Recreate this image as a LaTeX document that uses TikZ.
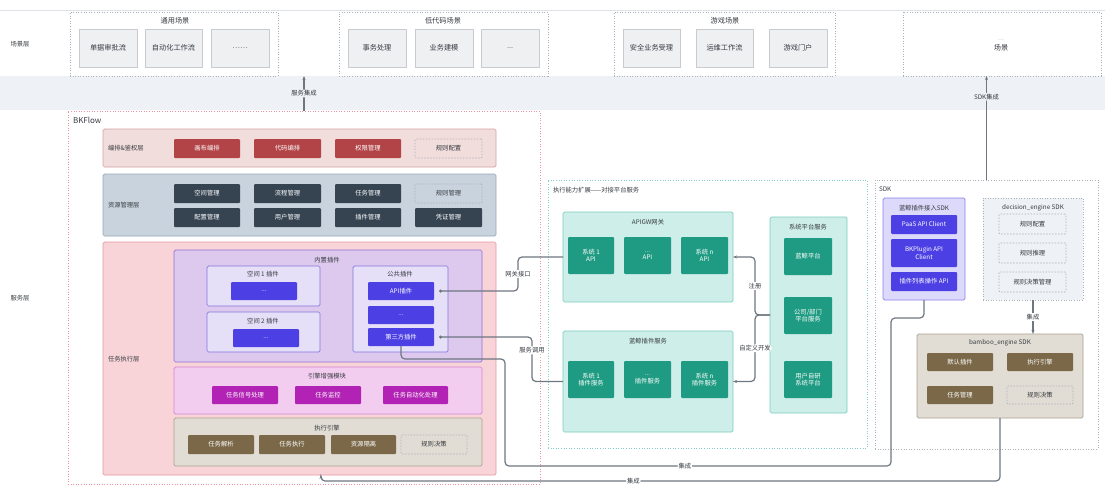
\documentclass[tikz,border=0pt]{standalone}
\usepackage{fontspec}
\setmainfont{Noto Sans CJK SC}
\usepackage{tikz}
\usetikzlibrary{arrows.meta,positioning,calc}
\usepackage{xcolor}
\definecolor{bandgray}{RGB}{238,241,245}
\definecolor{bandline}{RGB}{222,226,231}
\definecolor{scenefill}{RGB}{238,240,242}
\definecolor{sceneline}{RGB}{200,204,209}
\definecolor{dotgray}{RGB}{172,178,185}
\definecolor{txtdark}{RGB}{55,59,65}
\definecolor{linkgray}{RGB}{110,118,128}
\definecolor{bkpink}{RGB}{232,150,162}
\definecolor{orchfill}{RGB}{242,221,221}
\definecolor{orchline}{RGB}{212,160,160}
\definecolor{orchitem}{RGB}{178,68,72}
\definecolor{resfill}{RGB}{201,211,221}
\definecolor{resline}{RGB}{152,166,180}
\definecolor{resitem}{RGB}{54,68,82}
\definecolor{execfill}{RGB}{248,212,217}
\definecolor{execline}{RGB}{230,152,162}
\definecolor{plugfill}{RGB}{221,201,238}
\definecolor{plugline}{RGB}{150,112,210}
\definecolor{subfill}{RGB}{229,223,248}
\definecolor{subline}{RGB}{132,116,222}
\definecolor{blueitem}{RGB}{76,64,228}
\definecolor{enhfill}{RGB}{243,205,240}
\definecolor{enhline}{RGB}{210,132,210}
\definecolor{enhitem}{RGB}{178,34,180}
\definecolor{engfill}{RGB}{226,221,212}
\definecolor{engline}{RGB}{170,160,140}
\definecolor{engitem}{RGB}{122,104,72}
\definecolor{tealfill}{RGB}{206,238,233}
\definecolor{tealline}{RGB}{122,205,190}
\definecolor{tealitem}{RGB}{30,155,130}
\definecolor{tealdot}{RGB}{130,205,200}
\definecolor{sdkfill}{RGB}{221,217,251}
\definecolor{sdkline}{RGB}{138,128,232}
\newcommand{\sm}{\fontsize{6.3}{7.4}\selectfont}
\newcommand{\md}{\fontsize{7.2}{8.4}\selectfont}
% box from corner (x1,y1) to (x2,y2): style, name, x1, y1, x2, y2, text
\newcommand{\cell}[7]{\node[#1, minimum width={#5-#3}, minimum height={#6-#4}] (#2) at ({(#3+#5)/2},{(#4+#6)/2}) {#7};}
\tikzstyle{base} = [inner sep=0, outer sep=0, font=\sm, text=txtdark, align=center]
\tikzstyle{grp} = [base, draw=dotgray, line width=0.8pt, dash pattern=on 1pt off 1.6pt]
\tikzstyle{scn} = [base, font=\md, fill=scenefill, draw=sceneline, line width=0.5pt]
\tikzstyle{layer} = [base, rounded corners=1.5pt, line width=0.7pt]
\tikzstyle{item} = [base, rounded corners=1pt, text=white]
\tikzstyle{dashitem} = [base, rounded corners=1pt, draw=dotgray, line width=0.7pt, dash pattern=on 1.5pt off 1.5pt]
\tikzstyle{ttl} = [base]
\tikzstyle{lbl} = [base, fill=white, inner sep=1pt]
\tikzstyle{link} = [draw=linkgray, line width=1.2pt, rounded corners=4pt]

\begin{document}
\begin{tikzpicture}[x=1pt, y=-1pt]
    \useasboundingbox (0,0) rectangle (1105,485);

    % Bands
    \cell{base, fill=white, draw=bandline, line width=0.6pt}{sceneband}{-2}{10}{1107}{76}{}
    \cell{base, fill=bandgray}{midband}{-2}{76}{1107}{110}{}
    \node[ttl] (lscene) at (20,44) {场景层};
    \node[ttl] (lservice) at (20,298) {服务层};

    % Scene layer
    \cell{grp}{scn1}{70}{12}{278}{76}{}
    \node[ttl, font=\md] (scn1t) at (175,21) {通用场景};
    \cell{scn}{s11}{79}{29}{137}{67}{单据审批流}
    \cell{scn}{s12}{145}{29}{202}{67}{自动化工作流}
    \cell{scn}{s13}{211}{29}{269}{67}{……}

    \cell{grp}{scn2}{339}{12}{548}{76}{}
    \node[ttl, font=\md] (scn2t) at (443,21) {低代码场景};
    \cell{scn}{s21}{348}{29}{406}{67}{事务处理}
    \cell{scn}{s22}{415}{29}{473}{67}{业务建模}
    \cell{scn}{s23}{481}{29}{539}{67}{...}

    \cell{grp}{scn3}{614}{12}{835}{76}{}
    \node[ttl, font=\md] (scn3t) at (725,21) {游戏场景};
    \cell{scn}{s31}{623}{29}{680}{67}{安全业务受理}
    \cell{scn}{s32}{696}{29}{753}{67}{运维工作流}
    \cell{scn}{s33}{769}{29}{827}{67}{游戏门户}

    \cell{grp, fill=white}{scn4}{903}{12}{1101}{76}{}
    \node[ttl, font=\fontsize{3}{3}\selectfont] (scn4d) at (1001,40) {……};
    \node[ttl, font=\md] (scn4t) at (1001,48) {场景};

    % BKFlow
    \cell{grp, draw=bkpink}{bkflow}{68}{111}{540}{484}{}
    \node[ttl, anchor=west, font=\fontsize{8}{9}\selectfont] (bkflowt) at (73,120) {BKFlow};

    % orchestration layer
    \cell{layer, fill=orchfill, draw=orchline}{orch}{103}{129}{496}{167}{}
    \node[ttl, anchor=west] (orcht) at (108,148) {编排\&鉴权层};
    \cell{item, fill=orchitem}{o1}{174}{139}{240}{158}{画布编排}
    \cell{item, fill=orchitem}{o2}{254}{139}{321}{158}{代码编排}
    \cell{item, fill=orchitem}{o3}{335}{139}{401}{158}{权限管理}
    \cell{dashitem}{o4}{415}{139}{482}{158}{规则配置}

    % resource layer
    \cell{layer, fill=resfill, draw=resline}{res}{103}{174}{496}{236}{}
    \node[ttl, anchor=west] (rest) at (108,205) {资源管理层};
    \cell{item, fill=resitem}{r1}{174}{184}{240}{203}{空间管理}
    \cell{item, fill=resitem}{r2}{254}{184}{321}{203}{流程管理}
    \cell{item, fill=resitem}{r3}{335}{184}{401}{203}{任务管理}
    \cell{dashitem}{r4}{415}{184}{482}{203}{规则管理}
    \cell{item, fill=resitem}{r5}{174}{208}{240}{227}{配置管理}
    \cell{item, fill=resitem}{r6}{254}{208}{321}{227}{用户管理}
    \cell{item, fill=resitem}{r7}{335}{208}{401}{227}{插件管理}
    \cell{item, fill=resitem}{r8}{415}{208}{482}{227}{凭证管理}

    % task execution layer
    \cell{layer, fill=execfill, draw=execline}{taskexec}{103}{242}{496}{475}{}
    \node[ttl, anchor=west] (taskexect) at (108,359) {任务执行层};

    \cell{layer, fill=plugfill, draw=plugline}{builtin}{174}{250}{482}{362}{}
    \node[ttl] (builtint) at (327,260) {内置插件};
    \cell{layer, fill=subfill, draw=subline}{sp1}{207}{266}{320}{306}{}
    \node[ttl] (sp1t) at (263,274) {空间 1 插件};
    \cell{item, fill=blueitem}{sp1a}{231}{282}{297}{300}{...}
    \cell{layer, fill=subfill, draw=subline}{sp2}{207}{312}{320}{352}{}
    \node[ttl] (sp2t) at (263,321) {空间 2 插件};
    \cell{item, fill=blueitem}{sp2a}{233}{329}{299}{347}{...}
    \cell{layer, fill=subfill, draw=subline}{pub}{353}{266}{448}{352}{}
    \node[ttl] (pubt) at (400,274) {公共插件};
    \cell{item, fill=blueitem}{apiplug}{368}{282}{434}{300}{API插件}
    \cell{item, fill=blueitem}{pubdots}{368}{306}{434}{324}{...}
    \cell{item, fill=blueitem}{thirdplug}{368}{328}{434}{346}{第三方插件}

    \cell{layer, fill=enhfill, draw=enhline}{enh}{174}{367}{482}{414}{}
    \node[ttl] (enht) at (327,376) {引擎增强模块};
    \cell{item, fill=enhitem}{e1}{212}{386}{278}{404}{任务信号处理}
    \cell{item, fill=enhitem}{e2}{295}{386}{361}{404}{任务监控}
    \cell{item, fill=enhitem}{e3}{383}{386}{448}{404}{任务自动化处理}

    \cell{layer, fill=engfill, draw=engline}{eng}{174}{418}{482}{466}{}
    \node[ttl] (engt) at (327,428) {执行引擎};
    \cell{item, fill=engitem}{g1}{188}{435}{254}{454}{任务解析}
    \cell{item, fill=engitem}{g2}{259}{435}{325}{454}{任务执行}
    \cell{item, fill=engitem}{g3}{331}{435}{396}{454}{资源隔离}
    \cell{dashitem}{g4}{401}{435}{467}{454}{规则决策}

    % platform services
    \cell{grp, draw=tealdot}{ext}{548}{180}{867}{448}{}
    \node[ttl, anchor=west] (extt) at (553,190) {执行能力扩展——对接平台服务};
    \cell{layer, fill=tealfill, draw=tealline}{apigw}{563}{212}{733}{302}{}
    \node[ttl] (apigwt) at (648,222) {APIGW网关};
    \cell{item, fill=tealitem}{a1}{568}{237}{614}{274}{系统 1\\API}
    \cell{item, fill=tealitem}{a2}{624}{237}{671}{274}{...\\API}
    \cell{item, fill=tealitem}{a3}{681}{237}{728}{274}{系统 n\\API}
    \cell{layer, fill=tealfill, draw=tealline}{bkplug}{563}{331}{733}{432}{}
    \node[ttl] (bkplugt) at (648,341) {蓝鲸插件服务};
    \cell{item, fill=tealitem}{p1}{568}{361}{614}{398}{系统 1\\插件服务}
    \cell{item, fill=tealitem}{p2}{624}{361}{671}{398}{...\\插件服务}
    \cell{item, fill=tealitem}{p3}{681}{361}{728}{398}{系统 n\\插件服务}
    \cell{layer, fill=tealfill, draw=tealline}{sysplat}{770}{217}{847}{413}{}
    \node[ttl] (sysplatt) at (808,227) {系统平台服务};
    \cell{item, fill=tealitem}{y1}{784}{238}{832}{275}{蓝鲸平台}
    \cell{item, fill=tealitem}{y2}{784}{297}{832}{334}{公司/部门\\平台服务}
    \cell{item, fill=tealitem}{y3}{784}{361}{832}{398}{用户自研\\系统平台}

    % SDK
    \cell{grp}{sdk}{875}{180}{1098}{449}{}
    \node[ttl, anchor=west] (sdkt) at (879,189) {SDK};
    \cell{layer, fill=sdkfill, draw=sdkline}{bksdk}{883}{198}{965}{300}{}
    \node[ttl] (bksdkt) at (924,208) {蓝鲸插件接入SDK};
    \cell{item, fill=blueitem}{k1}{891}{215}{957}{234}{PaaS API Client}
    \cell{item, fill=blueitem}{k2}{891}{239}{957}{267}{BKPlugin API\\Client}
    \cell{item, fill=blueitem}{k3}{891}{272}{957}{291}{插件列表操作 API}
    \cell{grp, fill=bandgray}{decision}{983}{198}{1083}{300}{}
    \node[ttl] (decisiont) at (1033,208) {decision\_engine SDK};
    \cell{dashitem}{d1}{999}{214}{1066}{234}{规则配置}
    \cell{dashitem}{d2}{999}{243}{1066}{263}{规则推理}
    \cell{dashitem}{d3}{999}{272}{1066}{292}{规则决策管理}
    \cell{layer, fill=engfill, draw=engline}{bamboo}{917}{334}{1083}{418}{}
    \node[ttl] (bamboot) at (1000,343) {bamboo\_engine SDK};
    \cell{item, fill=engitem}{b1}{927}{353}{993}{371}{默认插件}
    \cell{item, fill=engitem}{b2}{1007}{353}{1073}{371}{执行引擎}
    \cell{item, fill=engitem}{b3}{927}{386}{993}{404}{任务管理}
    \cell{dashitem}{b4}{1007}{386}{1073}{404}{规则决策}

    % Connectors
    \draw[link, -{Stealth[length=4pt]}] (bkflow.north) -- node[lbl, fill=bandgray] (l1) {服务集成} (bkflow.north |- sceneband.south);
    \draw[link, -{Stealth[length=4pt]}] (sdk.north) -- node[lbl, fill=bandgray, pos=0.8] (l2) {SDK集成} (sdk.north |- scn4.south);
    \draw[link, {Circle[length=3pt]}-] ([xshift=5]apiplug.east) -| node[lbl, pos=0.75] (l3) {网关接口} (518,257) -- (apigw.west);
    \draw[link, {Circle[length=3pt]}-] ([xshift=5]thirdplug.east) -| node[lbl, pos=0.65] (l4) {服务调用} (532,381.5) -- (bkplug.west);
    \draw[link, -{Stealth[length=4pt]}] (sysplat.west) -- (755,315) |- node[lbl, pos=0.25] (l5) {注册} (apigw.east);
    \draw[link, -{Stealth[length=4pt]}] (sysplat.west) -- (755,315) |- node[lbl, pos=0.25] (l6) {自定义开发} (bkplug.east);
    \draw[link, -{Stealth[length=4pt]}] (decision.south) -- node[lbl] (l7) {集成} (decision.south |- bamboo.north);
    \draw[link] (thirdplug.south) |- (505,359) -- (505,466) -- node[lbl, pos=0.466] (l8) {集成} (891,466) -- (891,318) -| (bksdk.south);
    \draw[link, -{Stealth[length=4pt]}] (bamboo.south) |- node[lbl, pos=0.77] (l9) {集成} (321,481) -- ([xshift=21.5]taskexec.south);
\end{tikzpicture}
\end{document}
